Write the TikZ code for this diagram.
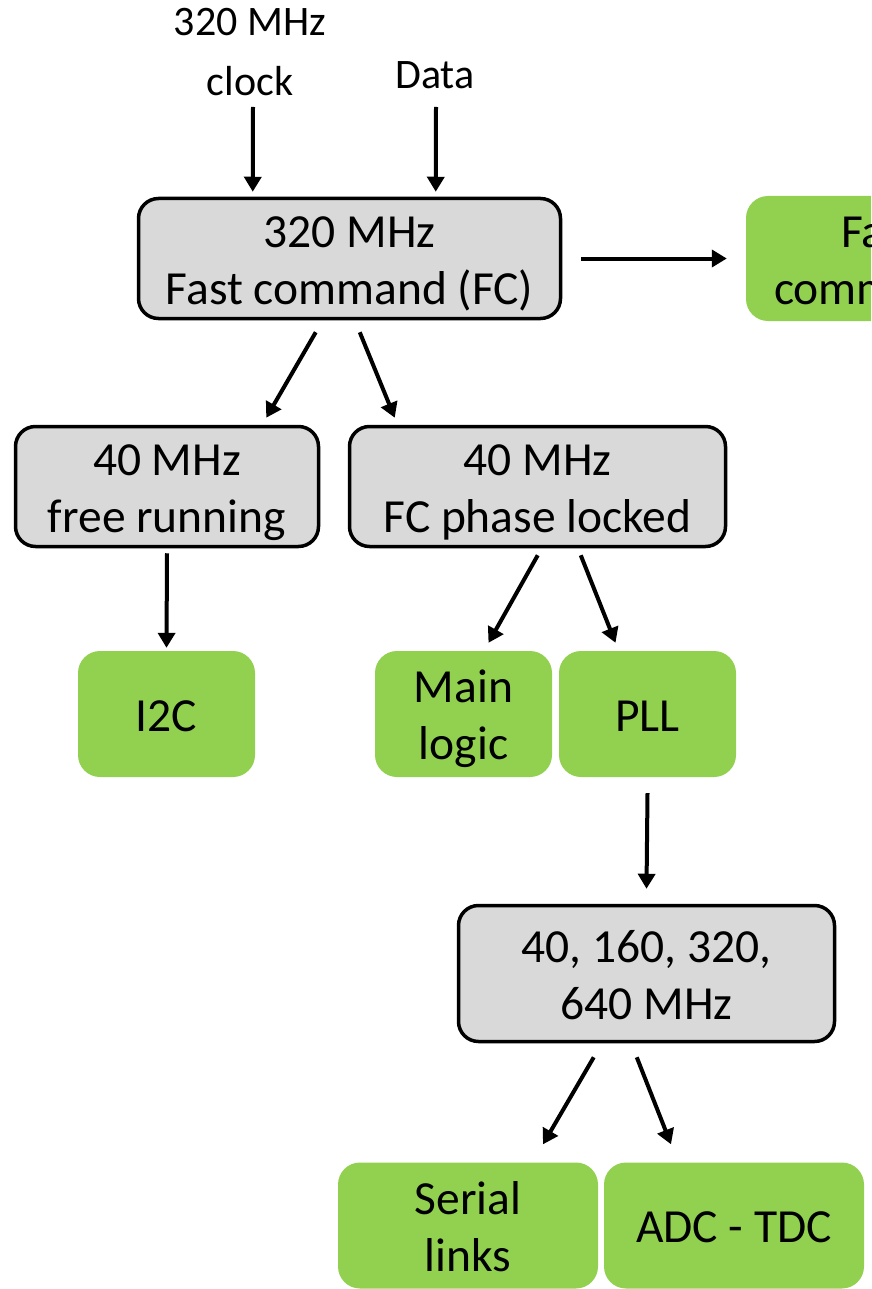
\documentclass[tikz,border=0pt]{standalone}
\usepackage{fontspec}
\setmainfont{Carlito}
\usetikzlibrary{arrows.meta,calc}
\definecolor{boxgray}{HTML}{D9D9D9}
\definecolor{leafgreen}{HTML}{92D050}
% fixed top and bottom struts keep every box's text at the same height
\newcommand{\tp}{\rule{0pt}{47pt}}
\newcommand{\bt}{\rule[-13pt]{0pt}{13pt}}
\begin{document}
\begin{tikzpicture}[x=1pt,y=-1pt,
  boxtext/.style={align=center, inner sep=0pt, font=\fontsize{47.5}{57}\selectfont},
  clockbox/.style={boxtext, draw=black, line width=3.5pt, fill=boxgray, rounded corners=20pt},
  leafbox/.style={boxtext, fill=leafgreen, rounded corners=22pt},
  lbl/.style={inner sep=0pt, anchor=base, font=\fontsize{42}{50}\selectfont},
  flow/.style={line width=4pt, -{Triangle[width=17pt,length=15pt]}}]
\useasboundingbox (0,0) rectangle (871,1289);
\clip (0,0) rectangle (871,1289);

% input labels
\node[lbl] (clkA) at (250,36) {320 MHz};
\node[lbl] (clkB) at (250,96) {clock};
\node[lbl] (data) at (435,89) {Data};

% clock boxes
\node[clockbox, minimum width=422pt, minimum height=120pt] (fc) at (349.5,258.5) {\tp 320 MHz\\Fast command (FC)\bt};
\node[clockbox, minimum width=303pt, minimum height=120pt] (free) at (167,486.5) {\tp 40 MHz\\free running\bt};
\node[clockbox, minimum width=376pt, minimum height=120pt] (lock) at (537.5,486.5) {\tp 40 MHz\\FC phase locked\bt};
\node[clockbox, minimum width=376pt, minimum height=136pt] (pllout) at (646.5,973.5) {\tp 40, 160, 320,\\640 MHz\bt};

% destination blocks
\node[leafbox, minimum width=268pt, minimum height=125pt] (fcmd) at (880,258.5) {\tp Fast\\commands\bt};
\node[leafbox, minimum width=177pt, minimum height=126pt] (i2c) at (166.5,714) {\tp I2C\bt};
\node[leafbox, minimum width=177pt, minimum height=126pt] (main) at (463.5,714) {\tp Main\\logic\bt};
\node[leafbox, minimum width=177pt, minimum height=126pt] (pll) at (647.5,714) {\tp PLL\bt};
\node[leafbox, minimum width=260pt, minimum height=126pt] (serial) at (468,1225.5) {\tp Serial\\links\bt};
\node[leafbox, minimum width=260pt, minimum height=126pt] (adc) at (734,1225.5) {\tp ADC - TDC\bt};

% connector end points, placed from the boxes they join
\coordinate (clkS) at ($(clkB.base)+(3,11)$);
\coordinate (clkE) at ($(fc.north west)+(116,-5)$);
\coordinate (datS) at ($(data.base)+(1,18)$);
\coordinate (datE) at ($(fc.north west)+(299,-5)$);
\coordinate (fcS)  at ($(fc.east)+(19,0)$);
\coordinate (fcE)  at ($(fcmd.west)+(-19,0)$);
\coordinate (f1S)  at ($(fc.south west)+(179,12)$);
\coordinate (f1E)  at ($(free.north east)+(-54,-7)$);
\coordinate (f2S)  at ($(fc.south west)+(223,12)$);
\coordinate (f2E)  at ($(lock.north west)+(47,-7)$);
\coordinate (frS)  at ($(free.south)+(0,5)$);
\coordinate (frE)  at ($(i2c.north)+(0,-3)$);
\coordinate (l1S)  at ($(lock.south west)+(190,7)$);
\coordinate (l1E)  at ($(main.north)+(25,-8)$);
\coordinate (l2S)  at ($(lock.south west)+(233,7)$);
\coordinate (l2E)  at ($(pll.north)+(-32,-8)$);
\coordinate (pS)   at ($(pll.south)+(0,16)$);
\coordinate (pE)   at ($(pllout.north)+(0,-15)$);
\coordinate (o1S)  at ($(pllout.south west)+(137,14)$);
\coordinate (o1E)  at ($(serial.north)+(75,-18)$);
\coordinate (o2S)  at ($(pllout.south west)+(180,14)$);
\coordinate (o2E)  at ($(adc.north)+(-63,-18)$);

% connectors
\draw[flow] (clkS) -- (clkE);
\draw[flow] (datS) -- (datE);
\draw[flow] (fcS) -- (fcE);
\draw[flow] (f1S) -- (f1E);
\draw[flow] (f2S) -- (f2E);
\draw[flow] (frS) -- (frE);
\draw[flow] (l1S) -- (l1E);
\draw[flow] (l2S) -- (l2E);
\draw[flow] (pS) -- (pE);
\draw[flow] (o1S) -- (o1E);
\draw[flow] (o2S) -- (o2E);
\end{tikzpicture}
\end{document}
